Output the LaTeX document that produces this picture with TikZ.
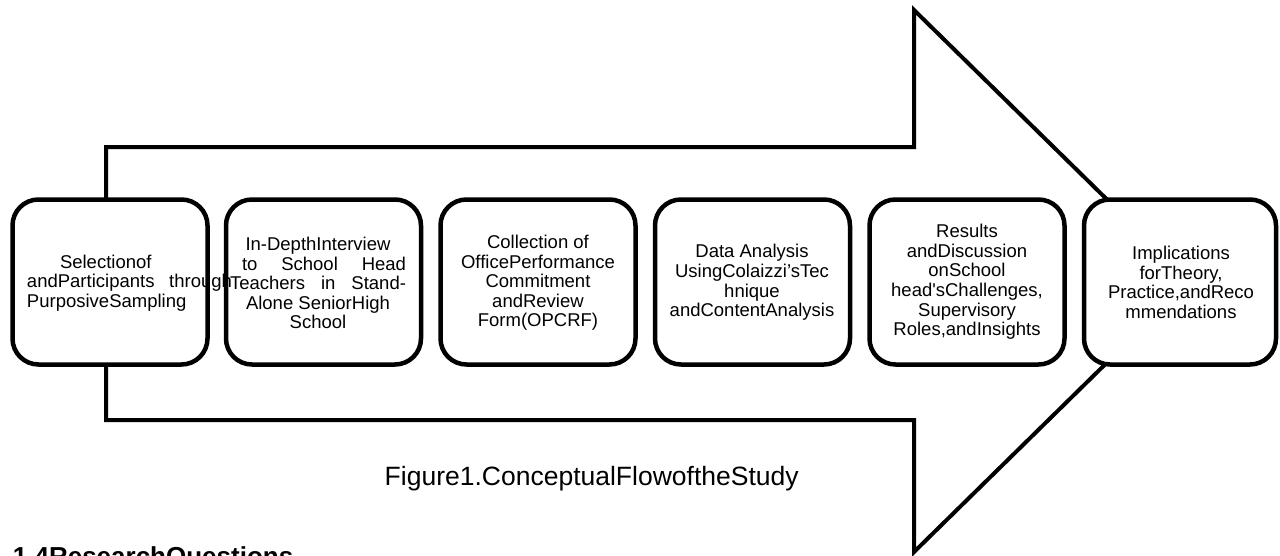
\documentclass[tikz,border=0pt]{standalone}
\usepackage{fontspec}
\setmainfont{Liberation Sans}[Ligatures=TeXOff]
\begin{document}
\begin{tikzpicture}[x=1pt,y=-1pt,
  stagebox/.style={draw=black, line width=4.5pt, fill=white, rounded corners=26pt,
    minimum width=195pt, minimum height=165pt, inner sep=0pt},
  stagetext/.style={align=center, inner sep=0pt, font=\fontsize{18.5}{19.6}\selectfont},
  arrowline/.style={draw=black, line width=4pt, line join=miter}
]
\useasboundingbox (0,0) rectangle (1280,555);
% big arrow
\draw[arrowline] (106,147) -- (914,147) -- (914,10) -- (1190,281) -- (914,552) -- (914,420) -- (106,420) -- cycle;
% boxes
\node[stagebox] (b1) at (110,282) {};
\node[stagebox] (b2) at (323.5,282) {};
\node[stagebox] (b3) at (538,282) {};
\node[stagebox] (b4) at (752.5,282) {};
\node[stagebox] (b5) at (967,282) {};
\node[stagebox, minimum width=192pt] (b6) at (1180,282) {};
% texts
\node[stagetext] (t1) at (129.5,283) {\makebox[205pt][l]{\hspace{33pt}Selectionof}\\
  \makebox[205pt][s]{andParticipants\hfill through}\\
  \makebox[205pt][l]{PurposiveSampling}};
\node[stagetext] (t2) at (318,283) {In-DepthInterview\\
  \makebox[176pt][s]{\hspace{12pt}to\hfill School\hfill Head}\\
  \makebox[176pt][s]{Teachers\hfill in\hfill Stand-}\\
  Alone SeniorHigh\\ School};
\node[stagetext] (t3) at (538,283) {Collection of\\ OfficePerformance\\ Commitment\\ andReview\\ Form(OPCRF)};
\node[stagetext] (t4) at (752,282.5) {Data Analysis\\ UsingColaizzi’sTec\\ hnique\\ andContentAnalysis};
\node[stagetext] (t5) at (967,282) {Results\\ andDiscussion\\ onSchool\\ head's\-Challenges,\\ Supervisory\\ Roles,andInsights};
\node[stagetext] (t6) at (1181,282.5) {Implications\\ forTheory,\\ Practice,andReco\\ mmendations};
% caption and heading
\node[inner sep=0pt, font=\fontsize{26.5}{30}\selectfont] (cap) at (591.7,479) {Figure1.ConceptualFlowoftheStudy};
\node[inner sep=0pt, anchor=base west, font=\fontsize{26}{30}\selectfont\bfseries] (head) at (12.7,565.5) {1.4ResearchQuestions};
\end{tikzpicture}
\end{document}
